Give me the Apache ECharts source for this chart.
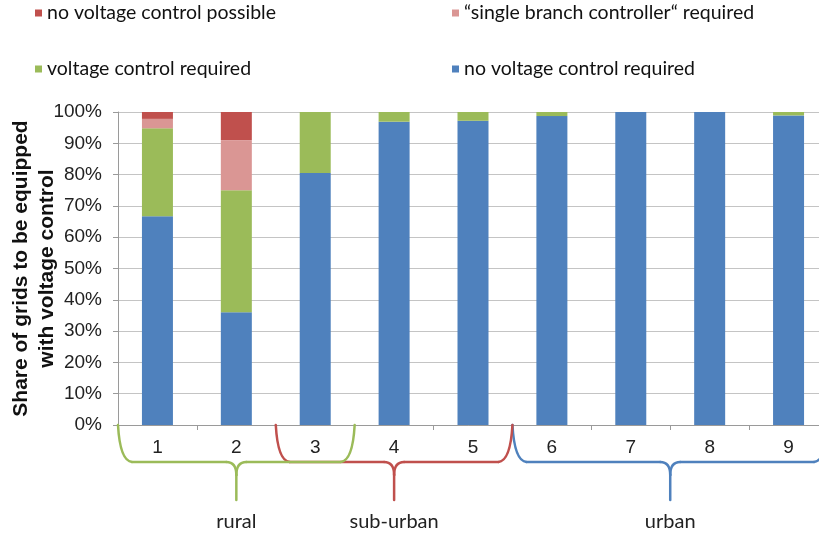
<!DOCTYPE html>
<html>
<head>
<meta charset="utf-8">
<script src="https://cdn.jsdelivr.net/npm/echarts@6/dist/echarts.min.js"></script>
<style>html,body{margin:0;padding:0;background:#fff}#c{width:819px;height:533px}</style>
</head>
<body>
<div id="c"></div>
<script>
var categories = ['1','2','3','4','5','6','7','8','9'];
var noControlRequired = [66.7, 36.0, 80.5, 96.9, 97.2, 98.7, 100, 100, 98.9];
var controlRequired   = [28.1, 39.0, 19.5, 3.1, 2.8, 1.3, 0, 0, 1.1];
var singleBranch      = [3.0, 16.0, 0, 0, 0, 0, 0, 0, 0];
var noControlPossible = [2.2, 9.0, 0, 0, 0, 0, 0, 0, 0];
var yTicks = [0,10,20,30,40,50,60,70,80,90,100];
var groups = [
  {name:'rural', from:0, to:3, color:'#9BBB59'},
  {name:'sub-urban', from:2, to:5, color:'#C0504D'},
  {name:'urban', from:5, to:9, color:'#4F81BD'}
];

var chart = echarts.init(document.getElementById('c'), null, {renderer:'canvas'});
var legendText = {fontFamily:'Lato', fontSize:19.5, color:'#111'};
function lg(name, left, top){
  return {data:[name], left:left, top:top, itemWidth:7, itemHeight:7, icon:'rect', itemGap:6, textStyle:legendText, selectedMode:false, padding:0};
}
var option = {
  animation:false,
  legend:[
    lg('no voltage control possible', 35, 3),
    lg('“single branch controller“ required', 452, 3),
    lg('voltage control required', 35, 59),
    lg('no voltage control required', 452, 59)
  ],
  grid:{left:118, top:112, width:710, height:313, containLabel:false, outerBoundsMode:'none'},
  xAxis:{
    type:'category', data:categories,
    axisLine:{lineStyle:{color:'#9a9a9a', width:1}},
    axisTick:{show:true, length:5, lineStyle:{color:'#9a9a9a'}},
    axisLabel:{fontFamily:'Liberation Sans', fontSize:19, color:'#222', margin:13}
  },
  yAxis:{
    type:'value', min:0, max:100, interval:10,
    name:'Share of grids to be equipped\nwith voltage control',
    nameLocation:'middle', nameGap:58, nameMoveOverlap:false,
    nameTextStyle:{fontFamily:'Liberation Sans', fontSize:21, fontWeight:'bold', color:'#111', lineHeight:26},
    axisLine:{show:true, lineStyle:{color:'#9a9a9a'}},
    axisTick:{show:true, length:5, lineStyle:{color:'#9a9a9a'}},
    splitLine:{lineStyle:{color:'#c4c4c4', width:1}},
    axisLabel:{fontFamily:'Liberation Sans', fontSize:19, color:'#222', margin:16,
      formatter:function(v){return yTicks.indexOf(v)>=0 ? v+'%' : '';}}
  },
  series:[
    {name:'no voltage control required', type:'bar', stack:'a', barWidth:31, data:noControlRequired, itemStyle:{color:'#4F81BD'}},
    {name:'voltage control required', type:'bar', stack:'a', data:controlRequired, itemStyle:{color:'#9BBB59'}},
    {name:'“single branch controller“ required', type:'bar', stack:'a', data:singleBranch, itemStyle:{color:'#DA9694'}},
    {name:'no voltage control possible', type:'bar', stack:'a', data:noControlPossible, itemStyle:{color:'#C0504D'}}
  ]
};
chart.setOption(option);

// Braces under the axis, positioned from the category scale
function boundaryX(i){
  var c0 = chart.convertToPixel({xAxisIndex:0}, 0);
  var c1 = chart.convertToPixel({xAxisIndex:0}, 1);
  var w = c1 - c0;
  return c0 - w/2 + i*w;
}
var yTop = chart.convertToPixel({yAxisIndex:0}, 0);
var yMid = yTop + 37, yTip = yTop + 75;
var gfx = [];
[2,1,0].forEach(function(k){
  var g = groups[k];
  var x0 = boundaryX(g.from), x1 = boundaryX(g.to), xc = (x0+x1)/2;
  var st = {fill:null, stroke:g.color, lineWidth:2.5, lineCap:'round'};
  var parts = [
    {type:'bezierCurve', shape:{x1:x0, y1:yTop, x2:x0+14, y2:yMid, cpx1:x0+2, cpy1:yMid-1}},
    {type:'line', shape:{x1:x0+14, y1:yMid, x2:xc-10, y2:yMid}},
    {type:'bezierCurve', shape:{x1:xc-10, y1:yMid, x2:xc, y2:yMid+13, cpx1:xc, cpy1:yMid}},
    {type:'bezierCurve', shape:{x1:xc+10, y1:yMid, x2:xc, y2:yMid+13, cpx1:xc, cpy1:yMid}},
    {type:'line', shape:{x1:xc, y1:yMid+13, x2:xc, y2:yTip}},
    {type:'line', shape:{x1:xc+10, y1:yMid, x2:x1-14, y2:yMid}},
    {type:'bezierCurve', shape:{x1:x1-14, y1:yMid, x2:x1, y2:yTop, cpx1:x1-2, cpy1:yMid-1}}
  ];
  parts.forEach(function(p){ p.style = st; p.z = 10; gfx.push(p); });
  gfx.push({type:'text', x:xc, y:yTip+22, z:10,
    style:{text:g.name, font:'20px Lato', fill:'#222', textAlign:'center', textVerticalAlign:'middle'}});
});
chart.setOption({graphic:{elements:gfx}});
</script>
</body>
</html>
